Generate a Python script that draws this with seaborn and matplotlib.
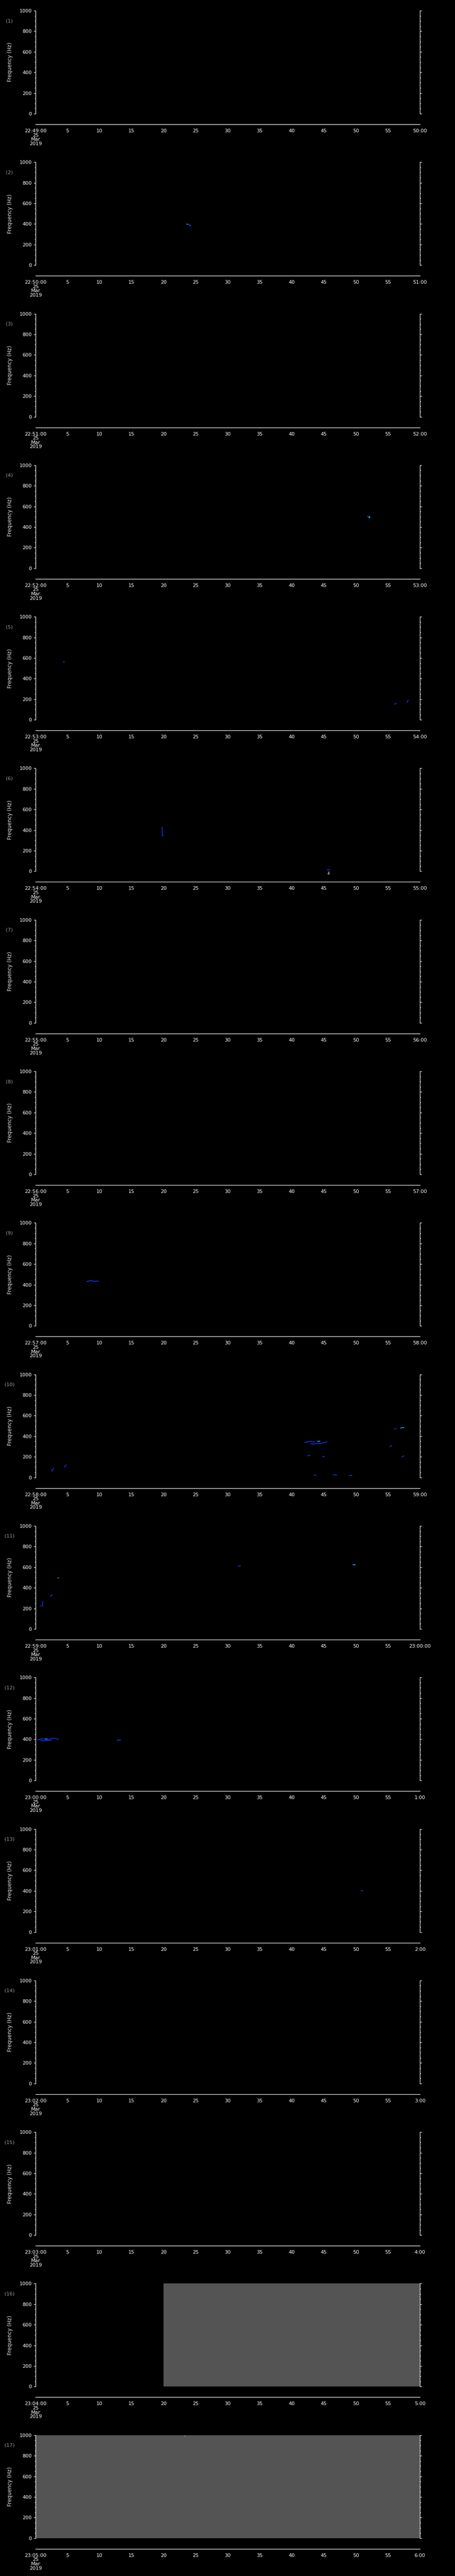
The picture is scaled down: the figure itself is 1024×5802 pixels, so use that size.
import numpy as np
import pandas as pd
import matplotlib
matplotlib.use("Agg")
import matplotlib.pyplot as plt
import seaborn as sns
from matplotlib.ticker import MultipleLocator, FixedLocator

# ---------------- data ----------------
panel_start = ["22:49:00", "22:50:00", "22:51:00", "22:52:00", "22:53:00", "22:54:00",
               "22:55:00", "22:56:00", "22:57:00", "22:58:00", "22:59:00", "23:00:00",
               "23:01:00", "23:02:00", "23:03:00", "23:04:00", "23:05:00"]
panel_end = ["50:00", "51:00", "52:00", "53:00", "54:00", "55:00", "56:00", "57:00",
             "58:00", "59:00", "23:00:00", "1:00", "2:00", "3:00", "4:00", "5:00", "6:00"]
date_text = "25\nMar\n2019"
tick_seconds = [0, 5, 10, 15, 20, 25, 30, 35, 40, 45, 50, 55, 60]
freq_ticks = [0, 200, 400, 600, 800, 1000]

# spectrogram traces: panel number, times (s), frequencies (Hz), colour key
seg_panel = [2, 2,
             4, 4,
             5, 5, 5,
             6, 6,
             9,
             10, 10, 10, 10, 10, 10, 10, 10, 10, 10, 10, 10, 10, 10,
             11, 11, 11, 11, 11,
             12, 12, 12, 12,
             13,
             17]
seg_t = [[23.6, 23.8], [23.8, 24.0, 24.0, 24.3],
         [51.8, 52.0], [52.0, 52.2, 52.1],
         [4.3, 4.5], [56.0, 56.3], [58.0, 58.1, 58.2],
         [19.8, 19.8, 20.0], [45.5, 45.9],
         [8.0, 8.6, 9.2, 9.8],
         [2.5, 2.8], [4.5, 4.8],
         [42.0, 42.8, 43.6], [43.0, 44.5, 45.5], [44.0, 44.4],
         [42.5, 42.8], [44.8, 45.1],
         [43.5, 43.8], [46.5, 47.0], [49.0, 49.4],
         [55.3, 55.6], [57.0, 57.5], [57.2, 57.5], [56.0, 56.3],
         [0.8, 1.0, 1.1, 1.1], [2.3, 2.5, 2.6], [3.5, 3.6], [31.6, 32.0], [49.5, 49.9, 49.9],
         [0.3, 1.0, 2.0, 3.0, 3.6], [0.8, 2.5], [1.5, 1.8], [12.7, 13.0, 13.3],
         [50.8, 51.1],
         [23.3, 23.35]]
seg_f = [[397, 397], [398, 398, 385, 385],
         [505, 495], [500, 500, 487],
         [560, 560], [152, 158], [170, 185, 190],
         [428, 347, 347], [14, 14],
         [430, 440, 432, 436],
         [60, 90], [100, 120],
         [340, 350, 345], [325, 330, 345], [350, 352],
         [210, 215], [200, 205],
         [20, 20], [25, 25], [20, 20],
         [300, 310], [480, 485], [200, 210], [470, 475],
         [222, 224, 224, 267], [316, 325, 331], [495, 495], [611, 611], [625, 625, 620],
         [395, 405, 400, 410, 400], [385, 390], [403, 403], [385, 395, 390],
         [400, 402],
         [990, 1000]]
seg_color = ["cyan", "blue",
             "blue", "cyan",
             "blue", "blue", "blue",
             "blue", "blue",
             "blue",
             "blue", "blue",
             "blue", "blue", "cyan",
             "blue", "blue",
             "blue", "blue", "blue",
             "blue", "cyan", "blue", "blue",
             "blue", "blue", "cyan", "blue", "cyan",
             "blue", "blue", "cyan", "blue",
             "blue",
             "cyan"]

# no-data (grey) spans
grey_panel = [16, 17]
grey_t0 = [20, 0]
grey_t1 = [60, 60]

# ---------------- style ----------------
sns.set_theme(style="dark")
plt.rcParams.update({
    "figure.facecolor": "black",
    "axes.facecolor": "black",
    "savefig.facecolor": "black",
    "text.color": "white",
    "axes.labelcolor": "white",
    "xtick.color": "white",
    "ytick.color": "white",
    "axes.edgecolor": "white",
    "axes.grid": False,
})
plt.rcParams["font.family"] = ["DejaVu Sans"]

palette = {"blue": "#1438ff", "cyan": "#00c8ff"}

W, H = 1024, 5802
DPI = 100
fig = plt.figure(figsize=(W / DPI, H / DPI), dpi=DPI)

n_panels = len(panel_start)
pitch = H / n_panels
x0_px, x1_px = 80, 945

def fy(px):
    return 1 - px / H

for k in range(n_panels):
    T = k * pitch
    num = k + 1
    ax = fig.add_axes([x0_px / W, fy(T + 256), (x1_px - x0_px) / W, 232 / H])
    ax.set_facecolor("black")
    ax.set_xlim(0, 60)
    ax.set_ylim(0, 1000)

    for p, a, b in zip(grey_panel, grey_t0, grey_t1):
        if p == num:
            ax.axvspan(a, b, ymin=0, ymax=1, color="#545454", lw=0, zorder=0)

    for p, ts, fs, c in zip(seg_panel, seg_t, seg_f, seg_color):
        if p == num:
            sns.lineplot(x=ts, y=fs, ax=ax, color=palette[c], lw=1.2,
                         estimator=None, sort=False, legend=False, zorder=3)

    for s in ["top", "bottom"]:
        ax.spines[s].set_visible(False)
    for s in ["left", "right"]:
        ax.spines[s].set_visible(True)
        ax.spines[s].set_color("white")
        ax.spines[s].set_linewidth(0.9)
    ax.set_xticks([])
    ax.set_xlabel("")
    ax.set_ylabel("")
    ax.yaxis.set_major_locator(FixedLocator(freq_ticks))
    ax.yaxis.set_minor_locator(MultipleLocator(50))
    ax.tick_params(axis="y", which="major", direction="out", length=3.2, width=0.9,
                   left=True, right=True, labelleft=True, labelright=False,
                   labelsize=8, pad=3, colors="white")
    ax.tick_params(axis="y", which="minor", direction="out", length=1.6, width=0.9,
                   left=True, right=True, colors="white")

    # separate time axis below
    tax = fig.add_axes([x0_px / W, fy(T + 280), (x1_px - x0_px) / W, 0.3 / H])
    tax.set_facecolor("none")
    tax.patch.set_alpha(0)
    tax.set_xlim(0, 60)
    tax.set_ylim(0, 1)
    for s in ["top", "left", "right"]:
        tax.spines[s].set_visible(False)
    tax.spines["bottom"].set_color("white")
    tax.spines["bottom"].set_linewidth(0.9)
    tax.set_yticks([])
    tax.set_xticks(tick_seconds)
    labels = [panel_start[k] + "\n" + date_text] + [str(s) for s in tick_seconds[1:-1]] + [panel_end[k]]
    tax.set_xticklabels(labels)
    tax.tick_params(axis="x", direction="out", length=3.2, width=0.9, labelsize=8,
                    pad=4, colors="white")
    for lab in tax.get_xticklabels():
        lab.set_linespacing(0.95)
        lab.set_verticalalignment("top")

    fig.text(21 / W, fy(T + 47), f"({num})", color="#9a9a9a", fontsize=8,
             ha="center", va="center")
    fig.text(23 / W, fy(T + 140), "Frequency (Hz)", color="#e6e6e6", fontsize=8.5,
             ha="center", va="center", rotation=90)

    if num == 6:
        ax.text(45.7, -4, "4", color="white", fontsize=6, ha="center", va="top")

fig.savefig("out.png", dpi=DPI, facecolor="black")
